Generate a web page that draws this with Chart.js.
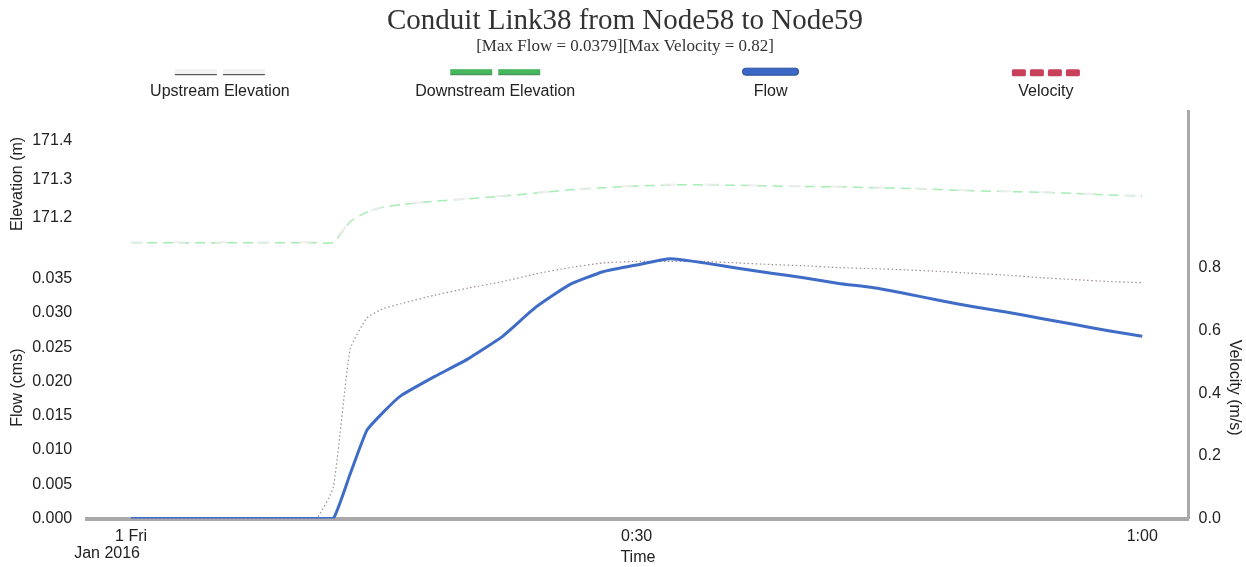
<!DOCTYPE html>
<html>
<head>
<meta charset="utf-8">
<title>Conduit Link38</title>
<script src="https://cdn.jsdelivr.net/npm/chart.js@4.4.0/dist/chart.umd.min.js"></script>
<style>
  body { margin: 0; background: #fff; }
  canvas { display: block; }
</style>
</head>
<body>
<canvas id="chartLink" width="1246" height="567"></canvas>
<script>
// minutes since 1 Jan 2016 00:00
const minutes = [0, 2, 4, 6, 8, 10, 11, 12, 13, 14, 15, 16, 18, 20, 22, 24, 26, 28, 30,
  32, 34, 36, 38, 40, 42, 44, 46, 48, 50, 52, 54, 56, 58, 60];

const upstreamElev = [171.137, 171.137, 171.137, 171.137, 171.137, 171.137, 171.137, 171.138,
  171.192, 171.216, 171.229, 171.235, 171.244, 171.250, 171.257, 171.265, 171.273, 171.279,
  171.283, 171.286, 171.286, 171.285, 171.283, 171.282, 171.281, 171.279, 171.277, 171.274,
  171.271, 171.269, 171.267, 171.264, 171.260, 171.257];

const downstreamElev = [171.136, 171.136, 171.136, 171.136, 171.136, 171.136, 171.136, 171.137,
  171.190, 171.215, 171.228, 171.234, 171.243, 171.249, 171.256, 171.264, 171.272, 171.278,
  171.282, 171.285, 171.285, 171.284, 171.282, 171.281, 171.280, 171.278, 171.276, 171.273,
  171.270, 171.268, 171.266, 171.263, 171.259, 171.256];

const flow = [0, 0, 0, 0, 0, 0, 0, 0, 0.0065, 0.0129, 0.0156, 0.0179, 0.0207, 0.0233, 0.0265,
  0.0308, 0.0341, 0.0360, 0.0370, 0.0379, 0.0373, 0.0365, 0.0358, 0.0351, 0.0343, 0.0337,
  0.0328, 0.0318, 0.0309, 0.0301, 0.0292, 0.0283, 0.0274, 0.0266];

const velocity = [0, 0, 0, 0, 0, 0, 0, 0.10, 0.54, 0.64, 0.67, 0.685, 0.712, 0.735, 0.755,
  0.78, 0.80, 0.815, 0.82, 0.82, 0.82, 0.815, 0.81, 0.806, 0.80, 0.797, 0.793, 0.788, 0.782,
  0.776, 0.768, 0.762, 0.756, 0.752];

const timeTicks = [0, 30, 60];
const timeLabels = ['1 Fri', '0:30', '1:00'];
const elevTicks = [171.2, 171.3, 171.4];
const flowTicks = [0, 0.005, 0.010, 0.015, 0.020, 0.025, 0.030, 0.035];
const velTicks = [0, 0.2, 0.4, 0.6, 0.8];

const sansFont = { family: "'Liberation Sans', Arial, sans-serif", size: 16 };
const serifFont = "'Liberation Serif', 'Times New Roman', serif";
const textColor = '#222';

function points(values) {
  return minutes.map((m, i) => ({ x: m, y: values[i] }));
}

function fixedTicks(list) {
  return axis => { axis.ticks = list.map(v => ({ value: v })); };
}

// marker drawn above each legend label, one per dataset
const legendMarks = [
  { kind: 'dash', fill: '#f3f3f3', edge: '#333' },
  { kind: 'dash', fill: '#46b65c', edge: '#2b7a3b' },
  { kind: 'bar', fill: '#3a68c4', edge: '#2a4f9a' },
  { kind: 'dots', fill: '#c9405a', edge: '#9e2c44' }
];

function drawMark(ctx, mark, cx, cy) {
  ctx.fillStyle = mark.fill;
  ctx.strokeStyle = mark.edge;
  ctx.lineWidth = 1;
  if (mark.kind === 'dash') {
    [cx - 45, cx + 3].forEach(x => {
      ctx.fillRect(x, cy - 3, 42, 5);
      ctx.beginPath();
      ctx.moveTo(x, cy + 2.5);
      ctx.lineTo(x + 42, cy + 2.5);
      ctx.stroke();
    });
  } else if (mark.kind === 'bar') {
    ctx.beginPath();
    ctx.roundRect(cx - 28, cy - 4, 56, 7, 3);
    ctx.fill();
    ctx.stroke();
  } else {
    for (let k = 0; k < 4; k++) {
      ctx.beginPath();
      ctx.roundRect(cx - 34 + k * 18, cy - 3, 14, 7, 1.5);
      ctx.fill();
    }
  }
}

const stackedLegend = {
  id: 'stackedLegend',
  afterDraw(chart) {
    const { ctx, chartArea } = chart;
    const sets = chart.data.datasets;
    const colW = (chartArea.right - chartArea.left) / sets.length;
    ctx.save();
    sets.forEach((ds, i) => {
      const cx = chartArea.left + colW * (i + 0.5) - 5;
      drawMark(ctx, legendMarks[i], cx, chartArea.top - 39);
      ctx.fillStyle = textColor;
      ctx.font = `${sansFont.size}px ${sansFont.family}`;
      ctx.textAlign = 'center';
      ctx.textBaseline = 'middle';
      ctx.fillText(ds.label, cx, chartArea.top - 20);
    });
    ctx.restore();
  }
};

// year line under the first day tick
const dateLine = {
  id: 'dateLine',
  afterDraw(chart) {
    const { ctx } = chart;
    const xs = chart.scales.x;
    ctx.save();
    ctx.fillStyle = textColor;
    ctx.font = `${sansFont.size}px ${sansFont.family}`;
    ctx.textAlign = 'center';
    ctx.textBaseline = 'middle';
    ctx.fillText('Jan 2016', xs.getPixelForValue(timeTicks[0]) - 24, xs.top + 35);
    ctx.restore();
  }
};

const hiddenGrid = { display: false, drawTicks: false };

new Chart(document.getElementById('chartLink'), {
  type: 'line',
  data: {
    datasets: [
      {
        label: 'Upstream Elevation',
        data: points(upstreamElev),
        yAxisID: 'yElev',
        borderColor: 'rgba(236,236,236,0.9)',
        borderWidth: 2,
        borderDash: [12, 30],
        pointRadius: 0
      },
      {
        label: 'Downstream Elevation',
        data: points(downstreamElev),
        yAxisID: 'yElev',
        borderColor: '#a6ecb4',
        borderWidth: 1.5,
        borderDash: [10, 6],
        tension: 0.2,
        pointRadius: 0
      },
      {
        label: 'Flow',
        data: points(flow),
        yAxisID: 'yFlow',
        borderColor: '#3f6cc6',
        borderWidth: 3,
        tension: 0.15,
        pointRadius: 0
      },
      {
        label: 'Velocity',
        data: points(velocity),
        yAxisID: 'yVel',
        borderColor: 'rgba(90,65,78,0.6)',
        borderWidth: 1.2,
        borderDash: [1.5, 2.5],
        tension: 0.15,
        pointRadius: 0
      }
    ]
  },
  options: {
    responsive: false,
    animation: false,
    layout: { padding: { left: 4, right: 0, top: 0, bottom: 0 } },
    plugins: {
      legend: { display: false },
      tooltip: { enabled: false },
      title: {
        display: true,
        text: 'Conduit Link38 from Node58 to Node59',
        color: '#333',
        font: { family: serifFont, size: 29, weight: 'normal' },
        padding: { top: 4, bottom: 0 }
      },
      subtitle: {
        display: true,
        text: '[Max Flow = 0.0379][Max Velocity = 0.82]',
        color: '#333',
        font: { family: serifFont, size: 17 },
        padding: { top: -2, bottom: 54 }
      }
    },
    scales: {
      x: {
        type: 'linear',
        min: -2.6,
        max: 62.75,
        afterBuildTicks: fixedTicks(timeTicks),
        ticks: {
          callback: v => timeLabels[timeTicks.indexOf(v)],
          color: textColor,
          font: sansFont,
          padding: 8,
          maxRotation: 0,
          autoSkip: false
        },
        grid: hiddenGrid,
        border: { display: true, color: '#a9a9a9', width: 4 },
        title: { display: true, text: 'Time', color: textColor, font: sansFont, padding: { top: -6, bottom: 0 } }
      },
      // left stack is laid out bottom-up, so flow comes first
      yFlow: {
        position: 'left',
        stack: 'left',
        stackWeight: 1.8,
        min: 0,
        max: 0.0382,
        afterBuildTicks: fixedTicks(flowTicks),
        ticks: { callback: v => v.toFixed(3), color: textColor, font: sansFont, padding: 15 },
        grid: hiddenGrid,
        border: { display: false },
        title: { display: true, text: 'Flow (cms)', color: textColor, font: sansFont, padding: { top: 4, bottom: -10 } }
      },
      yElev: {
        position: 'left',
        stack: 'left',
        stackWeight: 1,
        min: 171.1,
        max: 171.475,
        afterBuildTicks: fixedTicks(elevTicks),
        ticks: { callback: v => v.toFixed(1), color: textColor, font: sansFont, padding: 15 },
        grid: hiddenGrid,
        border: { display: false },
        title: { display: true, text: 'Elevation (m)', color: textColor, font: sansFont, padding: { top: 4, bottom: -10 } }
      },
      yTop: {
        position: 'right',
        stack: 'right',
        stackWeight: 1,
        min: 0,
        max: 1,
        ticks: { display: false },
        grid: hiddenGrid,
        border: { display: true, color: '#a9a9a9', width: 3 }
      },
      yVel: {
        position: 'right',
        stack: 'right',
        stackWeight: 1.8,
        min: 0,
        max: 0.835,
        afterBuildTicks: fixedTicks(velTicks),
        ticks: { callback: v => v.toFixed(1), color: textColor, font: sansFont, padding: 10 },
        grid: hiddenGrid,
        border: { display: true, color: '#a9a9a9', width: 3 },
        title: { display: true, text: 'Velocity (m/s)', color: textColor, font: sansFont, padding: { top: 2, bottom: -6 } }
      }
    }
  },
  plugins: [stackedLegend, dateLine]
});
</script>
</body>
</html>
